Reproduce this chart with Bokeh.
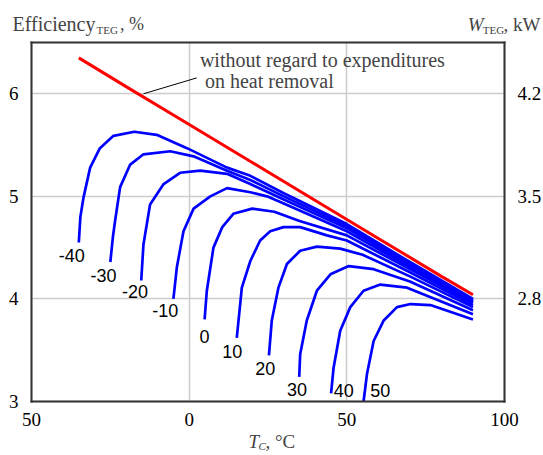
from bokeh.plotting import figure
from bokeh.models import Range1d, LinearAxis, FixedTicker, Label
from bokeh.embed import file_html
from bokeh.resources import INLINE

# ---------------- data ----------------
red_x = [-35, -20, 0, 20, 40, 60, 80, 90]
red_y = [6.35, 6.07, 5.70, 5.33, 4.96, 4.59, 4.22, 4.04]

curve_T = [-40, -30, -20, -10, 0, 10, 20, 30, 40, 50]

x_m40 = [-35, -34.5, -33.5, -31.4, -28.3, -24, -17.4, -10.3, -0.7, 12, 19.4, 30, 50, 70, 90]
y_m40 = [4.55, 4.80, 4.99, 5.28, 5.47, 5.59, 5.63, 5.60, 5.47, 5.28, 5.20, 5.03, 4.73, 4.36, 4.00]
x_m30 = [-25, -24.2, -23.5, -21.9, -18.7, -14.5, -6, 1.4, 12, 19.4, 30, 50, 70, 90]
y_m30 = [4.36, 4.60, 4.76, 5.09, 5.31, 5.41, 5.44, 5.39, 5.25, 5.16, 5.00, 4.71, 4.35, 3.99]
x_m20 = [-15.2, -14.5, -12.4, -8.1, -2.9, 3.5, 12, 19.4, 30, 50, 70, 90]
y_m20 = [4.18, 4.53, 4.92, 5.12, 5.23, 5.25, 5.22, 5.12, 4.97, 4.69, 4.33, 3.98]
x_m10 = [-5, -3.9, -1.8, 1.4, 6.7, 12, 19.4, 24.7, 30, 50, 70, 90]
y_m10 = [4.00, 4.31, 4.66, 4.88, 5.00, 5.08, 5.04, 5.00, 4.93, 4.66, 4.31, 3.97]
x_0 = [4.9, 5.6, 7.7, 10.5, 14, 20, 27, 35, 50, 70, 90]
y_0 = [3.80, 4.08, 4.50, 4.70, 4.83, 4.88, 4.85, 4.76, 4.62, 4.29, 3.96]
x_10 = [15.1, 16.7, 19.4, 22.5, 25.7, 29.9, 35.2, 43.7, 50, 70, 90]
y_10 = [3.62, 4.11, 4.37, 4.57, 4.66, 4.70, 4.70, 4.62, 4.57, 4.26, 3.94]
x_20 = [25.3, 26.2, 28.3, 31, 35.2, 40.5, 47.9, 55, 70, 90]
y_20 = [3.45, 3.79, 4.11, 4.34, 4.47, 4.51, 4.49, 4.43, 4.22, 3.92]
x_30 = [34.9, 35.2, 37.3, 40.5, 44.8, 50.6, 58.5, 70, 90]
y_30 = [3.24, 3.46, 3.79, 4.08, 4.24, 4.32, 4.29, 4.17, 3.89]
x_40 = [45, 45.8, 47.9, 51.1, 55.3, 60.6, 69.1, 90]
y_40 = [3.08, 3.33, 3.69, 3.92, 4.08, 4.14, 4.11, 3.85]
x_50 = [55.3, 56.4, 58.5, 61.7, 65.9, 70.2, 76.5, 90]
y_50 = [3.00, 3.27, 3.59, 3.79, 3.92, 3.95, 3.94, 3.80]

label_x = [-37.2, -27.2, -17.2, -7.6, 4.9, 13.7, 24.1, 34.2, 49.0, 60.6]
label_y = [4.42, 4.23, 4.07, 3.89, 3.63, 3.49, 3.32, 3.12, 3.11, 3.11]

x_ticks = [-50, 0, 50, 100]
x_tick_labels = {-50: "50"}
y_ticks = [3, 4, 5, 6]
w_ticks = [2.8, 3.5, 4.2]

x_lo, x_hi = -50, 100      # axis box
y_lo, y_hi = 3, 6.5
w_lo, w_hi = 2.1, 4.55     # right axis (W_TEG = 0.7 * efficiency)

leader_x = [-14.5, 2.4]
leader_y = [6.0, 6.155]

curves_x = [x_m40, x_m30, x_m20, x_m10, x_0, x_10, x_20, x_30, x_40, x_50]
curves_y = [y_m40, y_m30, y_m20, y_m10, y_0, y_10, y_20, y_30, y_40, y_50]

SERIF = "Liberation Serif"
SANS = "Liberation Sans Narrow, Arial Narrow, Liberation Sans"

# The frame covers the whole canvas; the axes are drawn at fixed locations,
# so that the titles outside the axis box are not clipped.
W, H = 543, 453
BOX_L, BOX_R, BOX_T, BOX_B = 31, 504, 42, 401
kx = (BOX_R - BOX_L) / (x_hi - x_lo)
ky = (BOX_B - BOX_T) / (y_hi - y_lo)
xr = Range1d(x_lo - BOX_L / kx, x_hi + (W - BOX_R) / kx)
yr = Range1d(y_lo - (H - BOX_B) / ky, y_hi + BOX_T / ky)
ratio = (w_hi - w_lo) / (y_hi - y_lo)

p = figure(width=W, height=H, x_range=xr, y_range=yr,
           output_backend="svg", toolbar_location=None,
           min_border_left=0, min_border_right=0, min_border_top=0, min_border_bottom=0)
p.extra_y_ranges = {"w": Range1d(w_lo + (yr.start - y_lo) * ratio, w_lo + (yr.end - y_lo) * ratio)}

p.outline_line_color = None
p.background_fill_color = "white"
p.border_fill_color = "white"

p.xaxis.ticker = FixedTicker(ticks=x_ticks)
p.xaxis.major_label_overrides = x_tick_labels
p.xaxis.fixed_location = y_lo
p.xaxis.bounds = (x_lo, x_hi)
p.yaxis.ticker = FixedTicker(ticks=y_ticks)
p.yaxis.fixed_location = x_lo
p.yaxis.bounds = (y_lo, y_hi)

right = LinearAxis(y_range_name="w", ticker=FixedTicker(ticks=w_ticks),
                   fixed_location=x_hi, bounds=(w_lo, w_hi))
p.add_layout(right, "right")
top = LinearAxis(ticker=FixedTicker(ticks=[]), fixed_location=y_hi, bounds=(x_lo, x_hi),
                 major_label_text_color=None)
p.add_layout(top, "above")

for ax in p.axis:
    ax.axis_line_color = "#333333"
    ax.axis_line_width = 2
    ax.axis_line_cap = "square"
    ax.major_tick_line_color = None
    ax.minor_tick_line_color = None
    ax.major_tick_out = 0
    ax.major_tick_in = 0
    ax.minor_tick_out = 0
    ax.major_label_text_font = SERIF
    ax.major_label_text_font_size = "19px"
    ax.major_label_text_color = "black"
    ax.major_label_standoff = 13
p.xaxis.major_label_standoff = 11
top.major_label_text_color = None

p.xgrid.ticker = FixedTicker(ticks=x_ticks)
p.ygrid.ticker = FixedTicker(ticks=y_ticks)
p.xgrid.bounds = (x_lo, x_hi)
p.ygrid.bounds = (y_lo, y_hi)
p.xgrid.cross_bounds = (y_lo, y_hi)
p.ygrid.cross_bounds = (x_lo, x_hi)
p.grid.grid_line_color = "#cccccc"
p.grid.grid_line_width = 1.5
p.grid.level = "underlay"

for cx, cy in zip(curves_x, curves_y):
    p.line(cx, cy, line_color="#0000ff", line_width=2.7)

p.line(red_x, red_y, line_color="#ff0000", line_width=3)

for t, lx, ly in zip(curve_T, label_x, label_y):
    p.add_layout(Label(x=lx, y=ly, text=str(t), text_font=SANS, text_font_size="18px",
                       text_align="center", text_baseline="middle", text_color="black"))

# annotation
p.line(leader_x, leader_y, line_color="black", line_width=1)
p.add_layout(Label(x=3.4, y=6.33, text="without regard to expenditures", text_font=SERIF,
                   text_font_size="20px", text_baseline="middle"))
p.add_layout(Label(x=5.0, y=6.125, text="on heat removal", text_font=SERIF,
                   text_font_size="20px", text_baseline="middle"))

# axis titles
titles = [
    Label(x=-56.0, y=6.68, text="Efficiency", text_font=SERIF,
          text_font_size="20px", text_baseline="middle"),
    Label(x=-29.4, y=6.626, text="TEG", text_font=SERIF,
          text_font_size="11px", text_baseline="middle"),
    Label(x=-21.9, y=6.68, text=", %", text_font=SERIF,
          text_font_size="18px", text_baseline="middle"),
    Label(x=111.4, y=6.68, text=", kW", text_font=SERIF,
          text_font_size="19px", text_baseline="middle", text_align="right"),
    Label(x=99.9, y=6.626, text="TEG", text_font=SERIF,
          text_font_size="11px", text_baseline="middle", text_align="right"),
    Label(x=93.4, y=6.68, text="W", text_font=SERIF, text_font_style="italic",
          text_font_size="19px", text_baseline="middle", text_align="right"),
    Label(x=18.8, y=2.61, text="T", text_font=SERIF, text_font_style="italic",
          text_font_size="19px", text_baseline="middle"),
    Label(x=22.0, y=2.565, text="C", text_font=SERIF, text_font_style="italic",
          text_font_size="11px", text_baseline="middle"),
    Label(x=24.2, y=2.61, text=", \u00b0C", text_font=SERIF,
          text_font_size="19px", text_baseline="middle"),
]
for lab in titles:
    p.add_layout(lab)

open("out.html", "w").write(file_html(p, INLINE))
